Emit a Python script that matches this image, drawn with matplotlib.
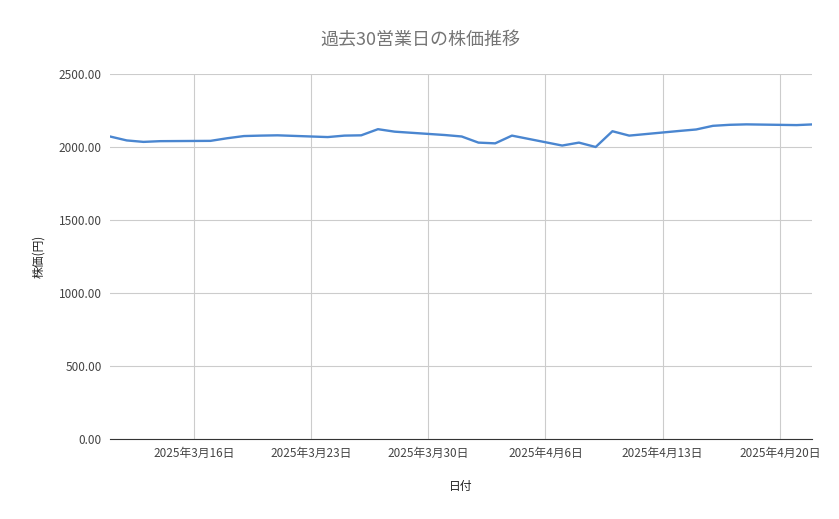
import matplotlib
matplotlib.use('Agg')
import matplotlib.pyplot as plt
import matplotlib.dates as mdates
from matplotlib.ticker import FuncFormatter
import pandas as pd

plt.rcParams['font.family'] = ['Noto Sans CJK JP', 'DejaVu Sans']

dates = pd.to_datetime([
    '2025-03-11', '2025-03-12', '2025-03-13', '2025-03-14',
    '2025-03-17', '2025-03-18', '2025-03-19', '2025-03-20', '2025-03-21',
    '2025-03-24', '2025-03-25', '2025-03-26', '2025-03-27', '2025-03-28',
    '2025-03-31', '2025-04-01', '2025-04-02', '2025-04-03', '2025-04-04',
    '2025-04-07', '2025-04-08', '2025-04-09', '2025-04-10', '2025-04-11',
    '2025-04-14', '2025-04-15', '2025-04-16', '2025-04-17', '2025-04-18',
    '2025-04-21', '2025-04-22',
])
prices = [2072, 2045, 2035, 2040,
          2042, 2060, 2075, 2078, 2080,
          2068, 2078, 2080, 2122, 2105,
          2082, 2072, 2030, 2025, 2078,
          2010, 2030, 2000, 2108, 2078,
          2110, 2120, 2145, 2152, 2155,
          2150, 2155]
tick_dates = pd.to_datetime(['2025-03-16', '2025-03-23', '2025-03-30',
                             '2025-04-06', '2025-04-13', '2025-04-20'])

fig = plt.figure(figsize=(8.39, 5.19), dpi=100)
ax = fig.add_axes([110/839, 80/519, 702/839, 365/519])
ax.plot(dates, prices, color='#4a86d0', linewidth=1.7)

ax.set_xlim(pd.Timestamp('2025-03-11'), pd.Timestamp('2025-04-21 22:00'))
ax.set_ylim(0, 2500)
ax.set_yticks([0, 500, 1000, 1500, 2000, 2500])
ax.yaxis.set_major_formatter(FuncFormatter(lambda v, p: f'{v:.2f}'))
ax.set_xticks(tick_dates)
ax.set_xticklabels([f'{d.year}年{d.month}月{d.day}日' for d in tick_dates])
ax.grid(True, color='#cccccc', linewidth=0.8)
ax.set_axisbelow(True)
for s in ['top', 'right', 'left']:
    ax.spines[s].set_visible(False)
ax.spines['bottom'].set_color('#333333')
ax.tick_params(length=0, labelsize=8.5, colors='#444444', pad=6)

fig.text(420/839, 1 - 40/519, '過去30営業日の株価推移', fontsize=13,
         color='#757575', ha='center', va='center')
ax.set_xlabel('日付', fontsize=8.5, color='#222222', labelpad=14)
ax.set_ylabel('株価(円)', fontsize=8.5, color='#222222', labelpad=10)

fig.savefig('out.png', dpi=100)
